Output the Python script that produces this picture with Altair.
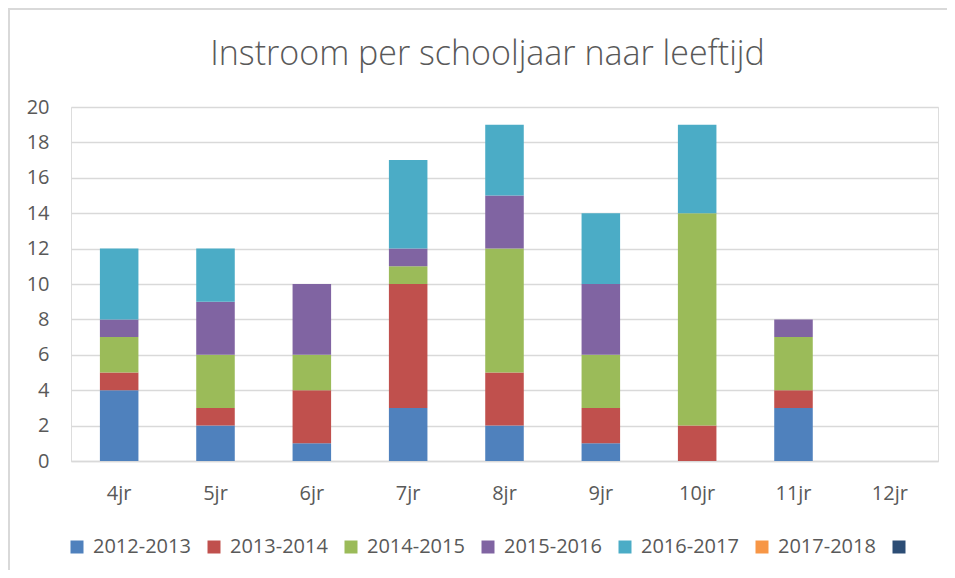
import altair as alt
import pandas as pd

categories = ["4jr", "5jr", "6jr", "7jr", "8jr", "9jr", "10jr", "11jr", "12jr"]
series_names = ["2012-2013", "2013-2014", "2014-2015", "2015-2016", "2016-2017", "2017-2018", ""]
v_2012_2013 = [4, 2, 1, 3, 2, 1, 0, 3, 0]
v_2013_2014 = [1, 1, 3, 7, 3, 2, 2, 1, 0]
v_2014_2015 = [2, 3, 2, 1, 7, 3, 12, 3, 0]
v_2015_2016 = [1, 3, 4, 1, 3, 4, 0, 1, 0]
v_2016_2017 = [4, 3, 0, 5, 4, 4, 5, 0, 0]
v_2017_2018 = [0, 0, 0, 0, 0, 0, 0, 0, 0]
v_blank = [0, 0, 0, 0, 0, 0, 0, 0, 0]
colors = ["#4F81BD", "#C0504D", "#9BBB59", "#8064A2", "#4BACC6", "#F79646", "#2C4D75"]
y_ticks = [0, 2, 4, 6, 8, 10, 12, 14, 16, 18, 20]

all_values = [v_2012_2013, v_2013_2014, v_2014_2015, v_2015_2016, v_2016_2017, v_2017_2018, v_blank]
rows = []
for si, (name, vals) in enumerate(zip(series_names, all_values)):
    for c, v in zip(categories, vals):
        rows.append({"leeftijd": c, "schooljaar": name, "aantal": v, "volgorde": si})
df = pd.DataFrame(rows)

W, H = 867, 354
FONT = "Open Sans"
GREY = "#595959"

bars = alt.Chart(df).mark_bar().encode(
    x=alt.X("leeftijd:N", sort=categories,
            scale=alt.Scale(paddingInner=0.6, paddingOuter=0.3),
            axis=alt.Axis(title=None, labelAngle=0, labelFontSize=20, labelColor=GREY,
                          labelFont=FONT, labelPadding=22, ticks=False,
                          domainColor="#d9d9d9", domainWidth=1.5, grid=False)),
    y=alt.Y("aantal:Q", stack="zero",
            scale=alt.Scale(domain=[0, 20], nice=False),
            axis=alt.Axis(title=None, values=y_ticks, labelFontSize=20, labelColor=GREY,
                          labelFont=FONT, labelPadding=22, ticks=False, domain=False,
                          gridColor="#d9d9d9", gridWidth=1.5)),
    color=alt.Color("schooljaar:N",
                    scale=alt.Scale(domain=series_names, range=colors),
                    legend=alt.Legend(title=None, orient="none", direction="horizontal",
                                      legendX=-4, legendY=430, symbolType="square",
                                      symbolSize=169, symbolStrokeWidth=0,
                                      labelFontSize=20, labelFont=FONT, labelColor=GREY,
                                      labelOffset=6, columnPadding=13, padding=0,
                                      columns=7)),
    order=alt.Order("volgorde:Q", sort="ascending"),
)

frame_data = alt.Data(values=[{"a": 1}])
frame_left = alt.Chart(frame_data).mark_rule(color="#d9d9d9", strokeWidth=2).encode(
    x=alt.value(-62), y=alt.value(-98), y2=alt.value(H + 120)
)
frame_top = alt.Chart(frame_data).mark_rule(color="#d9d9d9", strokeWidth=2).encode(
    x=alt.value(-63), x2=alt.value(W + 9), y=alt.value(-98)
)

chart = alt.layer(frame_left, frame_top, bars).properties(
    width=W, height=H,
    title=alt.TitleParams(text="Instroom per schooljaar naar leeftijd", fontSize=34,
                          font=FONT, fontWeight=300, color=GREY, anchor="middle",
                          dx=-17, offset=-64),
    padding={"left": 63, "top": 99, "right": 9, "bottom": 109},
    autosize=alt.AutoSizeParams(type="none"),
).configure_view(strokeWidth=0).configure(background="white")

chart.save("out.html", embed_options={"renderer": "svg", "actions": False})
